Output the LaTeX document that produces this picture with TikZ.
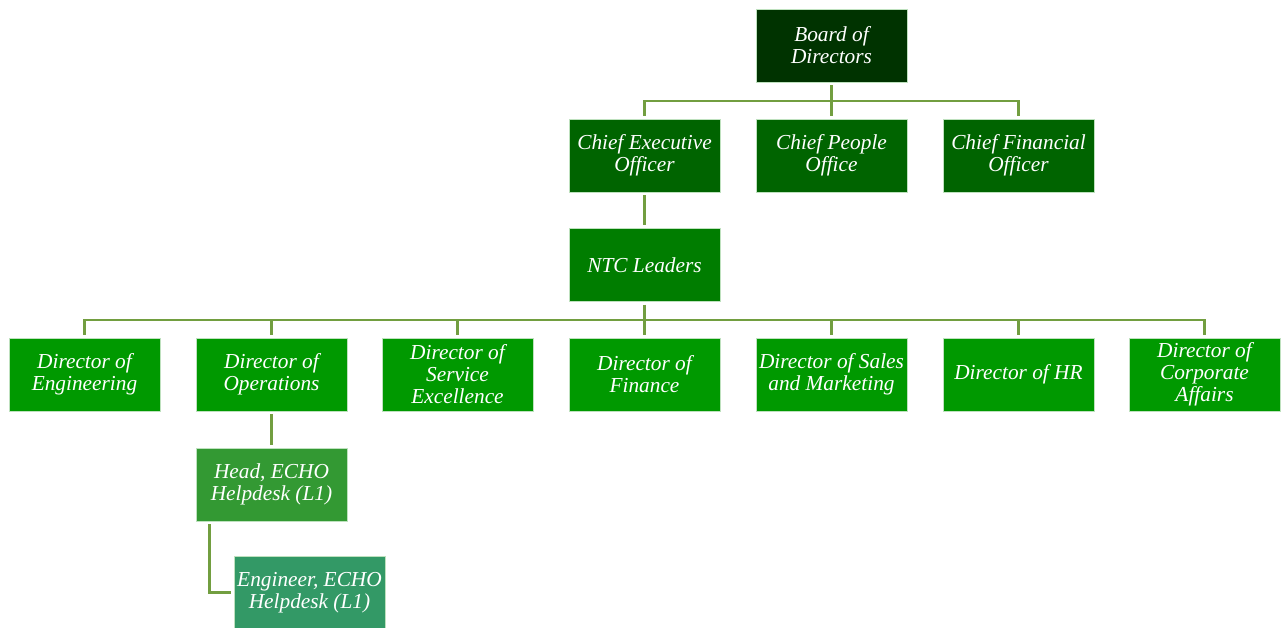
\documentclass[tikz,border=0pt]{standalone}
\usepackage{fontspec}
\setmainfont{Liberation Serif}
\definecolor{boardgreen}{RGB}{0,51,0}
\definecolor{chiefgreen}{RGB}{0,100,0}
\definecolor{ntcgreen}{RGB}{0,125,0}
\definecolor{dirgreen}{RGB}{0,153,0}
\definecolor{headgreen}{RGB}{51,153,51}
\definecolor{enggreen}{RGB}{51,153,102}
\definecolor{linkgreen}{RGB}{114,158,64}
\definecolor{edgegreen}{RGB}{190,225,190}
\tikzset{
  post/.style={draw=edgegreen, line width=0.5pt, text=white,
    minimum width=113pt, minimum height=54.5pt, inner sep=0pt, outer sep=2.5pt,
    align=center, font=\fontsize{16}{16.5}\selectfont\itshape},
  link/.style={draw=linkgreen, line width=2.2pt}
}
\begin{document}
\begin{tikzpicture}[x=0.75pt, y=-0.75pt]

  \useasboundingbox (0,0) rectangle (1282,628);

  % top
  \node[post, fill=boardgreen] (board) at (831.5,45.5) {Board of\\Directors};

  % chiefs
  \node[post, fill=chiefgreen] (ceo) at (644.5,155.5) {Chief Executive\\Officer};
  \node[post, fill=chiefgreen] (cpo) at (831.5,155.5) {Chief People\\Office};
  \node[post, fill=chiefgreen] (cfo) at (1018.5,155.5) {Chief Financial\\Officer};

  \node[post, fill=ntcgreen] (ntc) at (644.5,265) {NTC Leaders};

  % directors
  \foreach \name/\x/\txt in {deng/84.5/{Director of\\Engineering},
      dops/271.5/{Director of\\Operations},
      dserv/457.5/{Director of\\Service\\Excellence},
      dfin/644.5/{Director of\\Finance},
      dsales/831.5/{Director of Sales\\and Marketing},
      dhr/1018.5/{Director of HR},
      dcorp/1204.5/{Director of\\Corporate\\Affairs}}
    \node[post, fill=dirgreen] (\name) at (\x,374.5) {\txt};

  \node[post, fill=headgreen] (head) at (271.5,484.5) {Head, ECHO\\Helpdesk (L1)};
  \node[post, fill=enggreen] (eng) at (309.5,592.5) {Engineer, ECHO\\Helpdesk (L1)};

  % connectors
  \coordinate (busa) at (831.5,101);
  \coordinate (busb) at (644.5,320);
  \draw[link] (board) -- (cpo);
  \draw[link] (ceo.north) |- (busa) -| (cfo.north);
  \draw[link] (ceo) -- (ntc);
  \draw[link] (ntc) -- (dfin);
  \draw[link] (deng.north) |- (busb) -| (dcorp.north);
  \foreach \name in {dops,dserv,dsales,dhr}
    \draw[link] (\name.north) -- (\name.north |- busb);
  \draw[link] (dops) -- (head);
  \coordinate (headfoot) at ([xshift=12.25pt]head.south west);
  \draw[link] (headfoot) |- (eng.west);

\end{tikzpicture}
\end{document}
